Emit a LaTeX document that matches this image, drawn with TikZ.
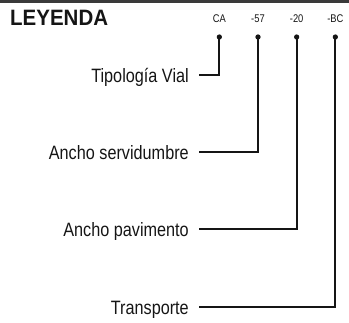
\documentclass[tikz,border=0pt]{standalone}
\usepackage{fontspec}
\setmainfont{Liberation Sans}
\newfontfamily\legendfont[FakeStretch=0.84]{Liberation Sans}
\newfontfamily\headfont[FakeStretch=0.92]{Liberation Sans}
\usetikzlibrary{positioning}
\definecolor{ink}{HTML}{151515}
\definecolor{barcolor}{HTML}{3A3A3A}

\begin{document}
\begin{tikzpicture}[
    every node/.style={inner sep=0pt, text=ink},
    head/.style={font=\headfont\bfseries\fontsize{19}{22}\selectfont, anchor=base west},
    code/.style={font=\legendfont\fontsize{9.5}{11}\selectfont, anchor=base},
    lab/.style={font=\legendfont\fontsize{16.5}{19}\selectfont, anchor=base east, yshift=-6pt},
    pin/.style={circle, fill=ink, minimum size=4.5pt},
    lead/.style={line width=1.8pt, color=ink},
]
\useasboundingbox (0,0) rectangle (10.47,9.66);

\fill[barcolor] (0,9.58) rectangle (10.47,9.66);

% ================================================================ heading
\node[head] (leyenda) at (0.30, 8.88) {LEYENDA};

% ================================================================ codes and leaders
\foreach \n/\x/\c/\y/\t in {a/6.58/CA/7.41/{Tipología Vial},
                            b/7.74/-57/5.10/{Ancho servidumbre},
                            c/8.90/-20/2.79/{Ancho pavimento},
                            d/10.06/-BC/0.45/{Transporte}}{
    \node[code] (code\n) at (\x, 8.97) {\c};
    \node[pin] (pin\n) at (\x, 8.55) {};
    \node[lab] (lab\n) at (5.67, \y) {\t};
    \coordinate (end\n) at (5.97, \y);
    \draw[lead] (pin\n.center) |- (end\n);
}

\end{tikzpicture}
\end{document}
